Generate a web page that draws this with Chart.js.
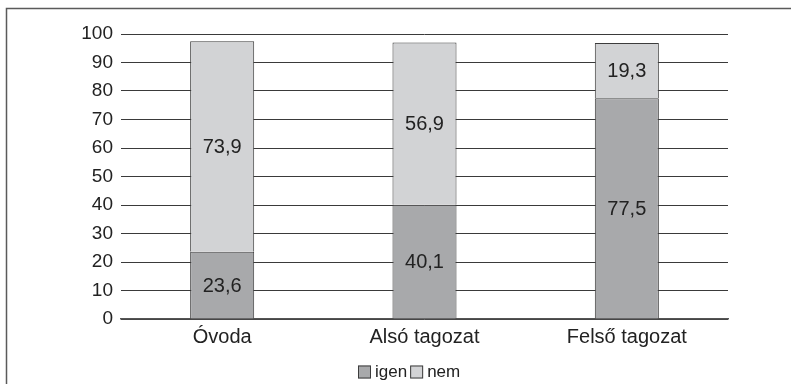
<!DOCTYPE html>
<html>
<head>
<meta charset="utf-8">
<script src="https://cdn.jsdelivr.net/npm/chart.js@4.4.1/dist/chart.umd.min.js"></script>
<style>
  html, body { margin: 0; padding: 0; background: #fff; }
  #wrap { width: 791px; height: 384px; position: relative; }
</style>
</head>
<body>
<div id="wrap"><canvas id="c" width="791" height="384"></canvas></div>
<script>
const categories = ['Óvoda', 'Alsó tagozat', 'Felső tagozat'];
const igenValues = [23.6, 40.1, 77.5];
const nemValues = [73.9, 56.9, 19.3];
const seriesNames = ['igen', 'nem'];
const yTicks = [0, 10, 20, 30, 40, 50, 60, 70, 80, 90, 100];

const FONT = '"Liberation Sans", Arial, sans-serif';
const EDGE = '#3c3c3c';

// Thin frame along the top and left edges
const framePlugin = {
  id: 'frame',
  beforeDraw(chart) {
    const ctx = chart.ctx;
    ctx.save();
    ctx.strokeStyle = '#5a5a5a';
    ctx.lineWidth = 1.5;
    ctx.beginPath();
    ctx.moveTo(6.5, chart.height);
    ctx.lineTo(6.5, 8.5);
    ctx.lineTo(chart.width, 8.5);
    ctx.stroke();
    ctx.restore();
  }
};

// Value written in the middle of each segment
const valueLabels = {
  id: 'valueLabels',
  afterDatasetsDraw(chart) {
    const ctx = chart.ctx;
    ctx.save();
    ctx.font = '20px ' + FONT;
    ctx.fillStyle = '#222';
    ctx.textAlign = 'center';
    ctx.textBaseline = 'middle';
    chart.data.datasets.forEach((ds, di) => {
      chart.getDatasetMeta(di).data.forEach((bar, i) => {
        const v = ds.data[i];
        const y = (bar.y + bar.base) / 2;
        ctx.fillText(v.toFixed(1).replace('.', ','), bar.x, y + 1);
      });
    });
    ctx.restore();
  }
};

// Compact legend row under the category labels
const legendRow = {
  id: 'legendRow',
  afterDraw(chart) {
    const ctx = chart.ctx;
    const box = 13, gapText = 4, gapItem = 3;
    ctx.save();
    ctx.font = '17px ' + FONT;
    ctx.textBaseline = 'middle';
    ctx.textAlign = 'left';
    const items = chart.data.datasets.map(ds => ({
      text: ds.label, fill: ds.backgroundColor, w: ctx.measureText(ds.label).width
    }));
    const total = items.reduce((s, it) => s + box + gapText + it.w, 0) + gapItem * (items.length - 1);
    const cx = (chart.chartArea.left + chart.chartArea.right) / 2 - 15;
    let x = Math.round(cx - total / 2);
    const y = 372;
    items.forEach(it => {
      ctx.fillStyle = it.fill;
      ctx.fillRect(x, y - box / 2, box, box);
      ctx.strokeStyle = EDGE;
      ctx.lineWidth = 1;
      ctx.strokeRect(x + 0.5, y - box / 2 + 0.5, box - 1, box - 1);
      ctx.fillStyle = '#222';
      ctx.fillText(it.text, x + box + gapText, y);
      x += box + gapText + it.w + gapItem;
    });
    ctx.restore();
  }
};

new Chart(document.getElementById('c'), {
  type: 'bar',
  data: {
    labels: categories,
    datasets: [
      { label: seriesNames[0], data: igenValues, backgroundColor: '#a8a9ab', borderColor: EDGE, borderWidth: 1 },
      { label: seriesNames[1], data: nemValues, backgroundColor: '#d2d3d5', borderColor: EDGE, borderWidth: 1 }
    ]
  },
  options: {
    responsive: false,
    animation: false,
    devicePixelRatio: 1,
    layout: { padding: { left: 10, right: 63, top: 34, bottom: 35 } },
    datasets: { bar: { barPercentage: 0.633, categoryPercentage: 0.5 } },
    scales: {
      x: {
        stacked: true,
        afterFit(scale) { scale.height = 30; },
        grid: { display: false, drawTicks: false },
        border: { display: true, color: '#555', width: 1.5 },
        ticks: { color: '#222', font: { family: FONT, size: 20 }, padding: 6 }
      },
      y: {
        stacked: true,
        min: 0,
        max: 100,
        afterBuildTicks(scale) { scale.ticks = yTicks.map(v => ({ value: v })); },
        afterFit(scale) { scale.width = 111; },
        grid: { color: '#3a3a3a', lineWidth: 1, drawTicks: false },
        border: { display: false },
        ticks: { color: '#222', font: { family: FONT, size: 19 }, padding: 8 }
      }
    },
    plugins: {
      legend: { display: false },
      tooltip: { enabled: false }
    }
  },
  plugins: [framePlugin, valueLabels, legendRow]
});
</script>
</body>
</html>
